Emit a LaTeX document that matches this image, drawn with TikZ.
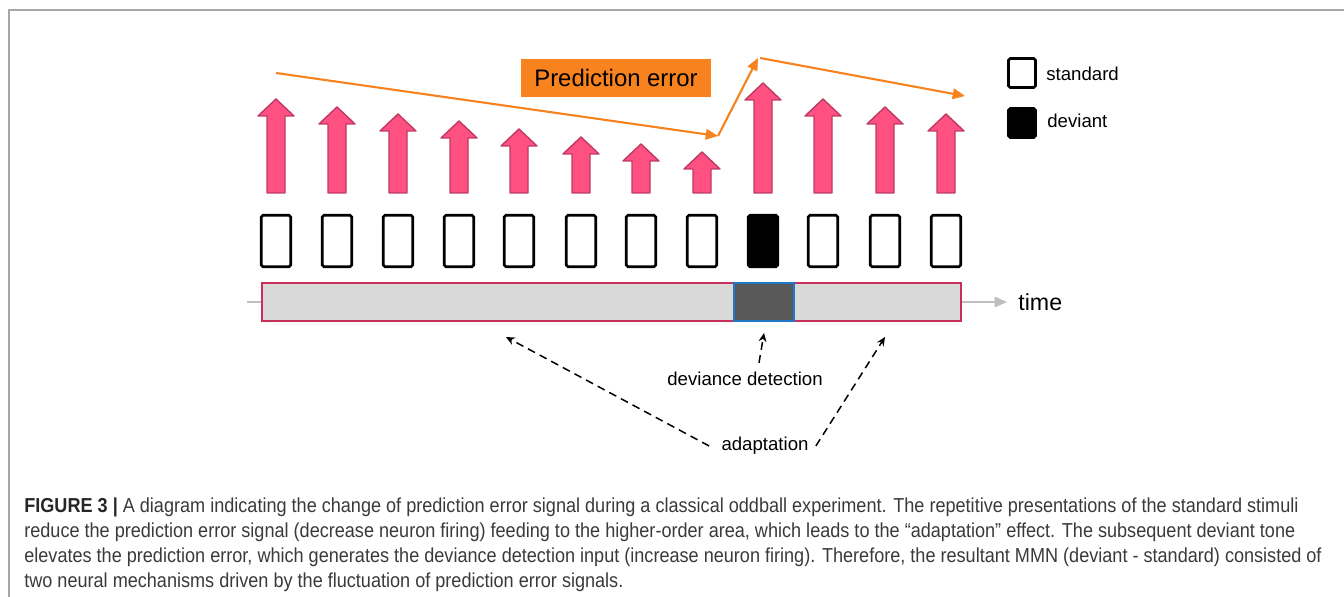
\documentclass[tikz,border=0pt]{standalone}
\usepackage{fontspec}
\setmainfont{Liberation Sans}
\newfontfamily\capfont[FakeStretch=0.895]{Liberation Sans}
\usetikzlibrary{arrows.meta,positioning}

\definecolor{pefill}{HTML}{F7821E}
\definecolor{arrfill}{HTML}{FF5082}
\definecolor{arredge}{HTML}{BE3A64}
\definecolor{barfill}{HTML}{D9D9D9}
\definecolor{barred}{HTML}{C8305A}
\definecolor{barblue}{HTML}{1F78C8}
\definecolor{devfill}{HTML}{595959}
\definecolor{linegray}{HTML}{BFBFBF}
\definecolor{framegray}{HTML}{A6A6A6}
\definecolor{captxt}{HTML}{3A3A3A}

\begin{document}
\begin{tikzpicture}[x=0.02cm,y=-0.02cm,
    stim/.style={draw=black, line width=1.5pt, rounded corners=1pt,
        minimum width=0.59cm, minimum height=1.03cm, inner sep=0pt},
    firing/.style={fill=arrfill, draw=arredge, line width=0.8pt,
        line join=round},
    pearrow/.style={-{Triangle[length=7pt,width=6pt]}, pefill,
        line width=1.2pt},
    dasharr/.style={-{Stealth[length=5pt,width=4.5pt]}, black,
        line width=0.85pt, dash pattern=on 4.5pt off 3pt},
    lbl/.style={font=\fontsize{10.6}{12}\selectfont, inner sep=0pt},
    caption/.style={font=\capfont\fontsize{11.5}{13}\selectfont,
        text=captxt, inner sep=0pt, anchor=base west}]

  \useasboundingbox (0,0) rectangle (1344,597);

  % ---- frame of the figure panel ----
  \draw[framegray, line width=0.85pt] (9,597) -- (9,10) -- (1344,10);

  % ---- neuron firing, one block arrow per stimulus ----
  \foreach \x/\t in {276/99, 337/107, 398/114, 459/121, 519/129,
      581/137, 641/144, 702/152, 763/83, 823/99, 885/107, 946/114}
    \draw[firing] ({\x-9},193) -- ({\x-9},{\t+17}) -- ({\x-18},{\t+17})
        -- (\x,\t) -- ({\x+18},{\t+17}) -- ({\x+9},{\t+17})
        -- ({\x+9},193) -- cycle;

  % ---- the stimulus sequence ----
  \foreach \x [count=\i] in {276, 337, 398, 459, 519, 581, 641, 702}
    \node[stim] (s\i) at (\x,241) {};
  \node[stim, fill=black] (dev) at (763,241) {};
  \foreach \x [count=\i from 10] in {823, 885, 946}
    \node[stim] (s\i) at (\x,241) {};

  % ---- prediction error trace ----
  \node[fill=pefill, minimum width=3.8cm, minimum height=0.76cm,
        inner sep=0pt, font=\fontsize{13.6}{16}\selectfont]
      (pe) at (616,78) {Prediction error};
  \coordinate (pe0) at (276,73);
  \coordinate (pe1) at (718,136);
  \coordinate (pe2) at (758,58);
  \coordinate (pe3) at (965,96);
  \draw[pearrow] (pe0) -- (pe1);
  \draw[pearrow] (pe1) -- (pe2);
  \draw[pearrow] ([xshift=0.04cm]pe2) -- (pe3);

  % ---- legend ----
  \node[stim, minimum width=0.54cm, minimum height=0.58cm] (lstd)
      at (1022,73) {};
  \node[lbl, anchor=west] (lstdtxt) at (1046,74) {standard};
  \node[stim, fill=black, minimum width=0.54cm, minimum height=0.58cm]
      (ldev) at (1022,123) {};
  \node[lbl, anchor=west] (ldevtxt) at (1047,121) {deviant};

  % ---- time line ----
  \node[fill=barfill, draw=barred, line width=1.1pt, inner sep=0pt,
        minimum width=14.0cm, minimum height=0.76cm] (bar) at (611.5,302) {};
  \node[fill=devfill, draw=barblue, line width=1.1pt, inner sep=0pt,
        minimum width=1.2cm, minimum height=0.76cm] (devseg) at (764,302) {};
  \coordinate (tstart) at (247,302);
  \coordinate (tend) at (1007,302);
  \draw[linegray, line width=0.85pt] (tstart) -- (bar.west);
  \draw[linegray, line width=0.85pt, -{Triangle[length=7pt,width=6pt]}]
      (bar.east) -- (tend);
  \node[font=\fontsize{13.2}{16}\selectfont, inner sep=0pt, anchor=west]
      (time) at (1018,302) {time};

  % ---- what the two mechanisms act on ----
  \node[lbl] (detect) at (745,379) {deviance detection};
  \node[lbl, inner sep=4pt] (adapt) at (765,446) {adaptation};
  \coordinate (tipL) at (506,337);
  \coordinate (tipD) at (764,333);
  \coordinate (tipR) at (885,337);
  \draw[dasharr] ([xshift=0.28cm,yshift=0.18cm]detect.north) -- (tipD);
  \draw[dasharr] ([xshift=-0.1cm]adapt.west) -- (tipL);
  \draw[dasharr] (adapt.east) -- (tipR);

  % ---- caption ----
  \node[caption] (cap1) at (24,512) {\textbf{\color{black!85}FIGURE 3 |}
      A diagram indicating the change of prediction error signal during a
      classical oddball experiment. The repetitive presentations of the
      standard stimuli};
  \node[caption] (cap2) at (24,537) {reduce the prediction error signal
      (decrease neuron firing) feeding to the higher-order area, which leads
      to the “adaptation” effect. The subsequent deviant tone};
  \node[caption] (cap3) at (24,562) {elevates the prediction error, which
      generates the deviance detection input (increase neuron firing).
      Therefore, the resultant MMN (deviant - standard) consisted of};
  \node[caption] (cap4) at (24,587) {two neural mechanisms driven by the
      fluctuation of prediction error signals.};

\end{tikzpicture}
\end{document}
